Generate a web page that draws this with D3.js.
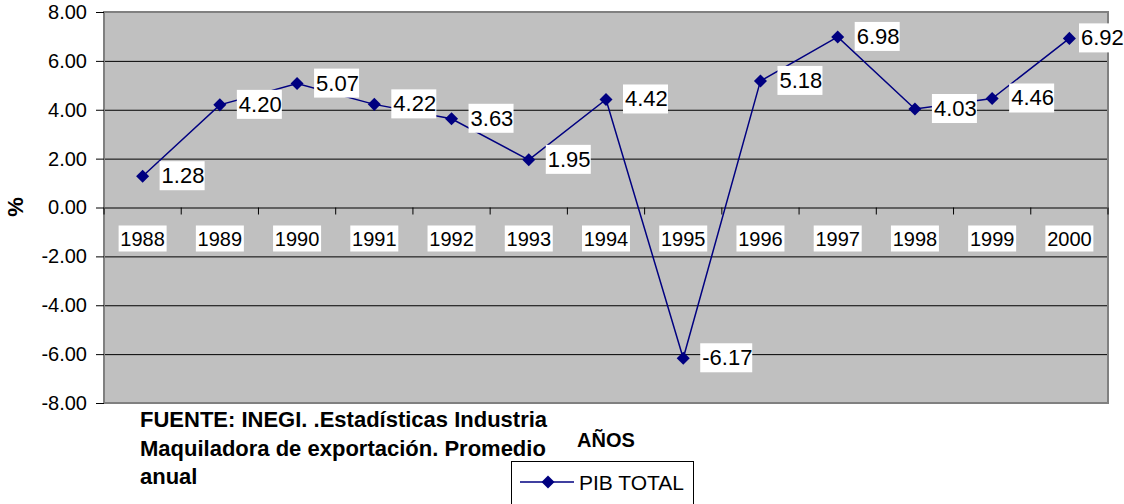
<!DOCTYPE html>
<html>
<head>
<meta charset="utf-8">
<script src="https://cdn.jsdelivr.net/npm/d3@7"></script>
<style>
  body { margin: 0; background: #fff; }
  svg text { font-family: Arial, "Liberation Sans", sans-serif; }
</style>
</head>
<body>
<div id="chart"></div>
<script>
// data
var years = ["1988","1989","1990","1991","1992","1993","1994","1995","1996","1997","1998","1999","2000"];
var pib = [1.28, 4.20, 5.07, 4.22, 3.63, 1.95, 4.42, -6.17, 5.18, 6.98, 4.03, 4.46, 6.92];
var yTicks = [8, 6, 4, 2, 0, -2, -4, -6, -8];
var sourceLines = ["FUENTE: INEGI. .Estadísticas Industria", "Maquiladora de exportación. Promedio", "anual"];

var W = 1124, H = 504;
var margin = { left: 104, right: 16, top: 12, bottom: 101 };
var width = W - margin.left - margin.right,
    height = H - margin.top - margin.bottom;

// plain hyphen instead of unicode minus
var fmt = function(d){ return d3.format(".2f")(d).replace("\u2212", "-"); };

var svg = d3.select("#chart").append("svg")
    .attr("width", W)
    .attr("height", H);

var g = svg.append("g")
    .attr("transform", "translate(" + margin.left + "," + margin.top + ")");

// scales
var x = d3.scaleBand().domain(years).range([0, width]);
var y = d3.scaleLinear().domain([-8, 8]).range([height, 0]);
var cx = function(i){ return x(years[i]) + x.bandwidth()/2; };

// plot background
g.append("rect")
    .attr("width", width).attr("height", height)
    .attr("fill", "#c0c0c0");

// grid lines
g.selectAll(".grid").data(yTicks.filter(function(d){ return d > -8 && d < 8; }))
  .enter().append("line")
    .attr("x1", 0).attr("x2", width)
    .attr("y1", function(d){ return y(d) + 0.5; })
    .attr("y2", function(d){ return y(d) + 0.5; })
    .attr("stroke", "#000").attr("stroke-width", 1);

// plot border
g.append("rect")
    .attr("width", width).attr("height", height)
    .attr("fill", "none")
    .attr("stroke", "#808080").attr("stroke-width", 2);

// y axis
var yAxis = d3.axisLeft(y).tickValues(yTicks)
    .tickFormat(fmt).tickSize(8).tickPadding(9);
var ya = g.append("g").call(yAxis);
ya.select(".domain").remove();
ya.selectAll(".tick line").attr("stroke", "#000");
ya.selectAll("text").attr("font-size", "20px").attr("fill", "#000");

// category ticks on zero line
var bounds = d3.range(years.length + 1).map(function(i){ return i * x.bandwidth(); });
g.selectAll(".ctick").data(bounds).enter().append("line")
    .attr("x1", function(d){ return d; }).attr("x2", function(d){ return d; })
    .attr("y1", y(0)).attr("y2", y(0) + 7)
    .attr("stroke", "#000");

// category labels with white boxes
var cat = g.selectAll(".cat").data(years).enter().append("g")
    .attr("transform", function(d){ return "translate(" + (x(d) + x.bandwidth()/2) + "," + (y(0) + 31) + ")"; });
cat.append("rect")
    .attr("x", -24).attr("y", -13).attr("width", 48).attr("height", 26)
    .attr("fill", "#fff");
cat.append("text")
    .attr("text-anchor", "middle").attr("dy", "0.36em")
    .attr("font-size", "20px").text(function(d){ return d; });

// line
var line = d3.line()
    .x(function(d, i){ return cx(i); })
    .y(function(d){ return y(d); });
g.append("path").datum(pib)
    .attr("d", line)
    .attr("fill", "none")
    .attr("stroke", "#000080").attr("stroke-width", 1.5);

var diamond = d3.symbol().type(d3.symbolSquare).size(85);
g.selectAll(".pt").data(pib).enter().append("path")
    .attr("d", diamond)
    .attr("transform", function(d, i){ return "translate(" + cx(i) + "," + y(d) + ") rotate(45)"; })
    .attr("fill", "#000080");

// data labels (kept inside the svg at the right edge)
var boxW = function(d){ return d < 0 ? 52 : 45; };
var lab = g.selectAll(".lab").data(pib).enter().append("g")
    .attr("transform", function(d, i){
      var lx = Math.min(cx(i) + 17, W - margin.left - boxW(d));
      return "translate(" + lx + "," + (y(d) - 1) + ")";
    });
lab.append("rect")
    .attr("x", 0).attr("y", -14).attr("height", 29)
    .attr("width", boxW)
    .attr("fill", "#fff");
lab.append("text")
    .attr("x", 2).attr("dy", "0.36em")
    .attr("font-size", "22px")
    .text(fmt);

// y title
svg.append("text")
    .attr("transform", "translate(23,207) rotate(-90)")
    .attr("text-anchor", "middle")
    .attr("font-size", "22px").attr("font-weight", "bold")
    .text("%");

// source note
svg.selectAll(".src").data(sourceLines).enter().append("text")
    .attr("x", 140)
    .attr("y", function(d, i){ return 427 + i * 28.5; })
    .attr("font-size", "22px").attr("font-weight", "bold")
    .text(function(d){ return d; });

// x title
svg.append("text")
    .attr("x", 577).attr("y", 447)
    .attr("font-size", "20px").attr("font-weight", "bold")
    .text("AÑOS");

// legend
var leg = svg.append("g").attr("transform", "translate(511,461)");
leg.append("rect")
    .attr("x", 0.5).attr("y", 0.5).attr("width", 182).attr("height", 50)
    .attr("fill", "#fff").attr("stroke", "#000");
leg.append("line")
    .attr("x1", 9).attr("x2", 63).attr("y1", 21).attr("y2", 21)
    .attr("stroke", "#000080").attr("stroke-width", 1.5);
leg.append("path").attr("d", diamond)
    .attr("transform", "translate(37,21) rotate(45)").attr("fill", "#000080");
leg.append("text")
    .attr("x", 68).attr("y", 21).attr("dy", "0.36em")
    .attr("font-size", "21px").text("PIB TOTAL");
</script>
</body>
</html>
